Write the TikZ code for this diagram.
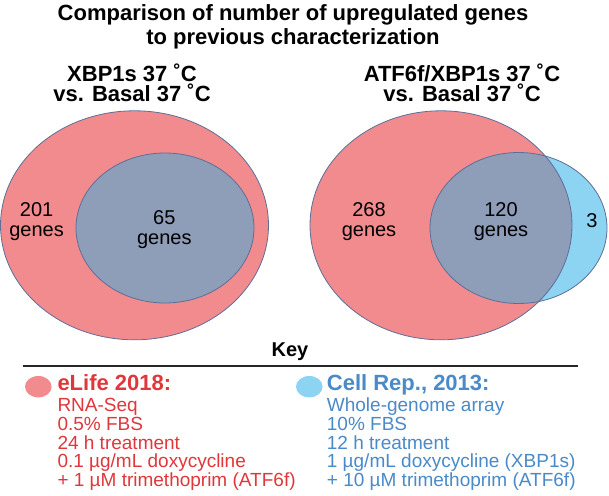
\documentclass[tikz,border=0pt]{standalone}
\usepackage{fontspec}
\setmainfont{Liberation Sans}
\definecolor{vred}{HTML}{F28B8E}
\definecolor{vgray}{HTML}{8E9DB8}
\definecolor{vblue}{HTML}{8DD3F2}
\definecolor{vline}{HTML}{5E6E98}
\definecolor{tred}{HTML}{E0373D}
\definecolor{tblue}{HTML}{4A8AC8}
\tikzset{
  txt/.style={inner sep=0pt, outer sep=0pt, anchor=base},
  ttl/.style={txt, font=\bfseries\fontsize{22}{24}\selectfont},
  num/.style={txt, font=\fontsize{20}{20}\selectfont},
  keyhead/.style={inner sep=0pt, anchor=base west, font=\bfseries\fontsize{22}{24}\selectfont},
  keyline/.style={inner sep=0pt, anchor=base west, font=\fontsize{19}{19}\selectfont},
  outl/.style={draw=vline, line width=0.8pt},
}
\begin{document}
\begin{tikzpicture}[x=1pt,y=-1pt]
\useasboundingbox (0,0) rectangle (609,495);
\fill[white] (0,0) rectangle (609,495);
% titles
\node[ttl] (t1) at (293,20.7) {Comparison of number of upregulated genes};
\node[ttl] (t2) at (293,45) {to previous characterization};
\node[ttl] (l1) at (132,81.7) {XBP1s 37 ˚C};
\node[ttl] (l2) at (132,101.7) {vs. Basal 37 ˚C};
\node[ttl] (r1) at (462,81.7) {ATF6f/XBP1s 37 ˚C};
\node[ttl] (r2) at (462,101.7) {vs. Basal 37 ˚C};
% left venn
\fill[vred] (134.5,225.3) ellipse [x radius=134, y radius=114.5];
\fill[vgray] (165,228) ellipse [x radius=89, y radius=75];
\draw[outl] (134.5,225.3) ellipse [x radius=134, y radius=114.5];
\draw[outl] (165,228) ellipse [x radius=89, y radius=75];
% right venn
\fill[vred] (441,225.3) ellipse [x radius=131, y radius=114.5];
\fill[vblue] (518.5,228) ellipse [x radius=88.5, y radius=75.5];
\begin{scope}
  \clip (441,225.3) ellipse [x radius=131, y radius=114.5];
  \fill[vgray] (518.5,228) ellipse [x radius=88.5, y radius=75.5];
\end{scope}
\draw[outl] (441,225.3) ellipse [x radius=131, y radius=114.5];
\draw[outl] (518.5,228) ellipse [x radius=88.5, y radius=75.5];
% numbers
\node[num] (a1) at (36.6,216.7) {201};
\node[num] (a2) at (36.6,236.7) {genes};
\node[num] (b1) at (164.3,224.3) {65};
\node[num] (b2) at (164.3,244.5) {genes};
\node[num] (c1) at (369,216.7) {268};
\node[num] (c2) at (369,236.7) {genes};
\node[num] (d1) at (501,216.7) {120};
\node[num] (d2) at (501,236.7) {genes};
\node[num] (e1) at (592,227) {3};
% key
\node[txt, font=\bfseries\fontsize{20}{20}\selectfont] (key) at (290,356.7) {Key};
\coordinate (kl) at (22.7,366);
\coordinate (kr) at (578.3,366);
\draw[line width=1.1pt, black!85] (kl) -- (kr);
\fill[vred] (38.3,386.7) ellipse [x radius=13.3, y radius=10.7];
\fill[vblue] (309.3,386.7) ellipse [x radius=13.3, y radius=10.7];
\node[keyhead, text=tred] (h1) at (57.3,390.7) {eLife 2018:};
\node[keyline, text=tred] (p1) at (57.3,411) {RNA-Seq};
\node[keyline, text=tred] (p2) at (57.3,430) {0.5\% FBS};
\node[keyline, text=tred] (p3) at (57.3,449.1) {24 h treatment};
\node[keyline, text=tred] (p4) at (57.3,467.9) {0.1 µg/mL doxycycline};
\node[keyline, text=tred] (p5) at (57.3,486.7) {+ 1 µM trimethoprim (ATF6f)};
\node[keyhead, text=tblue] (h2) at (326.7,390.7) {Cell Rep., 2013:};
\node[keyline, text=tblue] (q1) at (326.7,411) {Whole-genome array};
\node[keyline, text=tblue] (q2) at (326.7,430) {10\% FBS};
\node[keyline, text=tblue] (q3) at (326.7,449.1) {12 h treatment};
\node[keyline, text=tblue] (q4) at (326.7,467.9) {1 µg/mL doxycycline (XBP1s)};
\node[keyline, text=tblue] (q5) at (326.7,486.7) {+ 10 µM trimethoprim (ATF6f)};
\end{tikzpicture}
\end{document}
